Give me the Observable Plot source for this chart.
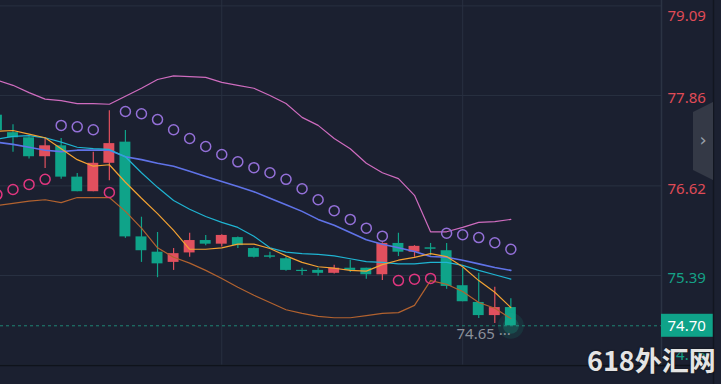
<!DOCTYPE html>
<html><head><meta charset="utf-8">
<script src="https://cdn.jsdelivr.net/npm/d3@7"></script>
<script src="https://cdn.jsdelivr.net/npm/@observablehq/plot@0.6"></script>
<style>
html,body{margin:0;padding:0;background:#1b2030;}
#wrap{position:relative;width:721px;height:384px;overflow:hidden;background:#1b2030;}
#chart svg{display:block;}
#deco{position:absolute;left:0;top:0;}
#wm{position:absolute;left:587px;top:340px;font-family:"Noto Sans CJK SC","Noto Sans",sans-serif;font-weight:700;font-size:27px;color:#e4e4e4;white-space:nowrap;text-shadow:0 0 2px #111;}
</style></head><body>
<div id="wrap"><div id="chart"></div>
<svg id="deco" width="721" height="384">
  <line x1="0" y1="365.5" x2="713" y2="365.5" stroke="#0f131b" stroke-width="1.5"/>
  <line x1="713.5" y1="0" x2="713.5" y2="384" stroke="#121620" stroke-width="1.5"/>
  <polygon points="693,112 713,102 713,180 693,170" fill="#343946"/>
  <text x="703" y="146" fill="#9aa0ab" font-family="DejaVu Sans" font-size="18" text-anchor="middle">›</text>
</svg>
<div id="wm">618外汇网</div>
</div>
<script>
// ---- data ----
const index = [-1,0,1,2,3,4,5,6,7,8,9,10,11,12,13,14,15,16,17,18,19,20,21,22,23,24,25,26,27,28,29,30,31];
const open  = [77.59,77.35,77.28,77.02,77.17,76.74,76.54,76.93,77.22,75.92,75.71,75.57,75.70,75.87,75.82,75.91,75.76,75.66,75.62,75.46,75.46,75.42,75.49,75.49,75.40,75.83,75.71,75.77,75.73,75.25,75.02,74.84,74.95];
const high  = [77.65,77.46,77.29,77.27,77.27,76.79,77.08,77.65,77.38,76.19,75.98,75.76,75.97,75.94,75.95,75.92,75.77,75.71,75.64,75.49,75.49,75.53,75.60,75.49,75.84,75.97,75.80,75.83,75.83,75.49,75.42,75.23,75.07];
const low   = [77.31,77.08,76.99,76.86,76.71,76.54,76.54,76.69,75.90,75.57,75.36,75.46,75.64,75.80,75.78,75.76,75.63,75.62,75.45,75.39,75.38,75.41,75.43,75.34,75.32,75.65,75.64,75.66,75.20,75.03,74.80,74.73,74.70];
const close = [77.38,77.28,77.02,77.17,76.74,76.54,76.93,77.20,75.92,75.73,75.55,75.69,75.87,75.82,75.94,75.80,75.64,75.64,75.46,75.445,75.42,75.49,75.46,75.40,75.83,75.71,75.79,75.75,75.24,75.03,74.84,74.95,74.70];
const maFast = [77.37,77.38,77.33,77.28,77.13,76.98,76.89,76.91,76.67,76.45,76.24,76.01,75.75,75.75,75.77,75.82,75.82,75.76,75.66,75.57,75.51,75.49,75.46,75.45,75.54,75.60,75.64,75.69,75.65,75.51,75.32,75.16,74.95];
const maMid  = [77.26,77.30,77.31,77.28,77.22,77.15,77.13,77.12,77.02,76.80,76.60,76.42,76.30,76.20,76.12,76.05,75.93,75.77,75.71,75.69,75.68,75.66,75.62,75.58,75.57,75.55,75.55,75.57,75.57,75.53,75.46,75.40,75.34];
const maSlow = [77.22,77.19,77.15,77.11,77.09,77.11,77.11,77.11,77.02,76.98,76.93,76.89,76.82,76.75,76.68,76.61,76.54,76.45,76.36,76.27,76.16,76.08,75.98,75.88,75.82,75.77,75.72,75.65,75.64,75.60,75.55,75.50,75.46];
const bbUpper = [78.07,78.00,77.90,77.81,77.79,77.75,77.75,77.74,77.85,77.96,78.08,78.13,78.12,78.11,78.04,78.00,77.96,77.86,77.75,77.56,77.45,77.27,77.13,76.93,76.80,76.72,76.49,75.99,75.99,76.05,76.12,76.13,76.16];
const bbLower = [76.35,76.38,76.41,76.43,76.39,76.46,76.46,76.46,76.27,76.04,75.77,75.64,75.56,75.46,75.35,75.23,75.12,75.02,74.92,74.87,74.83,74.81,74.81,74.84,74.87,74.88,74.98,75.32,75.27,75.17,75.02,74.94,74.80];
const sar = [76.50,76.57,76.64,76.71,77.45,77.43,77.39,76.53,77.64,77.61,77.53,77.39,77.27,77.16,77.05,76.95,76.87,76.80,76.71,76.58,76.43,76.28,76.16,76.04,75.93,75.32,75.34,75.35,75.97,75.95,75.91,75.84,75.75];
const priceTicks = [79.09, 77.86, 76.62, 75.39, 74.16];
const timeGrid = [13, 28];
const lastPrice = 74.70;
const refPrice = 76.0;
const markerLabel = "74.65";

// ---- build ----
const W = 721, H = 384, mR = 60, mB = 19;
const xDomain = [-0.778, 40.38];
const yDomain = [74.155, 79.164];
const candles = index.map((i, k) => ({i, o: open[k], h: high[k], l: low[k], c: close[k]}));
const series = (arr) => index.map((i, k) => ({i, v: arr[k]}));
const sarData = index.map((i, k) => ({i, v: sar[k], above: sar[k] > close[k]}));
const GREEN = "#0fa389", RED = "#e1505e";
const ys = d3.scaleLinear().domain(yDomain).range([H - mB, 0]);
const labelY = (t) => ys.invert(Math.max(16, Math.min(355, ys(t) + 3)));
const minBody = 0.016;

const plot = Plot.plot({
  width: W, height: H,
  marginLeft: 0, marginRight: mR, marginTop: 0, marginBottom: mB,
  style: {background: "#1b2030", fontFamily: "'Noto Sans', sans-serif"},
  x: {type: "linear", domain: xDomain, axis: null},
  y: {type: "linear", domain: yDomain, axis: null},
  marks: [
    Plot.ruleY(priceTicks, {stroke: "#283041", strokeWidth: 1}),
    Plot.ruleX(timeGrid, {stroke: "#283041", strokeWidth: 1, y1: yDomain[0], y2: yDomain[1]}),
    Plot.ruleX([xDomain[1]], {stroke: "#2b3343", strokeWidth: 1.5, y1: yDomain[0], y2: yDomain[1]}),
    Plot.ruleY([lastPrice], {x1: xDomain[0], x2: xDomain[1], stroke: "#1f8574", strokeDasharray: "3,3", strokeWidth: 1}),
    Plot.ruleX(candles, {x: "i", y1: "l", y2: "h", stroke: d => d.c >= d.o ? RED : GREEN, strokeWidth: 1.2, clip: true}),
    Plot.rect(candles, {
      x1: d => d.i - 0.34, x2: d => d.i + 0.34,
      y1: d => Math.min(d.o, d.c),
      y2: d => Math.max(Math.max(d.o, d.c), Math.min(d.o, d.c) + minBody),
      fill: d => d.c >= d.o ? RED : GREEN, clip: true
    }),
    Plot.line(series(bbUpper), {x: "i", y: "v", stroke: "#cf6cbf", strokeWidth: 1.2, clip: true}),
    Plot.line(series(bbLower), {x: "i", y: "v", stroke: "#b2622f", strokeWidth: 1.2, clip: true}),
    Plot.line(series(maSlow), {x: "i", y: "v", stroke: "#6073e8", strokeWidth: 1.6, clip: true}),
    Plot.line(series(maMid), {x: "i", y: "v", stroke: "#1fb4d2", strokeWidth: 1.2, clip: true}),
    Plot.line(series(maFast), {x: "i", y: "v", stroke: "#f3a233", strokeWidth: 1.2, clip: true}),
    Plot.dot(sarData, {x: "i", y: "v", r: 5, fill: "none", strokeWidth: 1.5, stroke: d => d.above ? "#9470d8" : "#e0367f", clip: true}),
    Plot.dot([{i: index[index.length - 1], v: lastPrice}], {x: "i", y: "v", r: 13, fill: "#16b894", fillOpacity: 0.12}),
    Plot.dot([{i: index[index.length - 1], v: lastPrice}], {x: "i", y: "v", r: 8, fill: "#16b894", fillOpacity: 0.22}),
    Plot.text([markerLabel + " \u00b7\u00b7\u00b7"], {x: index[index.length - 1], y: lastPrice, text: d => d, dx: 0, dy: 8, textAnchor: "end", fill: "#8a8f99", fontSize: 15}),
    Plot.text(priceTicks, {x: xDomain[1], y: d => labelY(d), text: d => d.toFixed(2), dx: 6, textAnchor: "start", fontSize: 15, fill: d => d > refPrice ? "#e04b57" : "#15a287"}),
    Plot.rect([lastPrice], {x1: xDomain[1], x2: xDomain[1] + 52 / (661 / (xDomain[1] - xDomain[0])), y1: d => ys.invert(ys(d) + 11.5), y2: d => ys.invert(ys(d) - 11.5), fill: "#0fa389"}),
    Plot.text([lastPrice], {x: xDomain[1], y: d => d, text: d => d.toFixed(2), dx: 6, textAnchor: "start", fontSize: 15, fill: "#ffffff"})
  ]
});
document.getElementById("chart").appendChild(plot);
</script>
</body></html>
